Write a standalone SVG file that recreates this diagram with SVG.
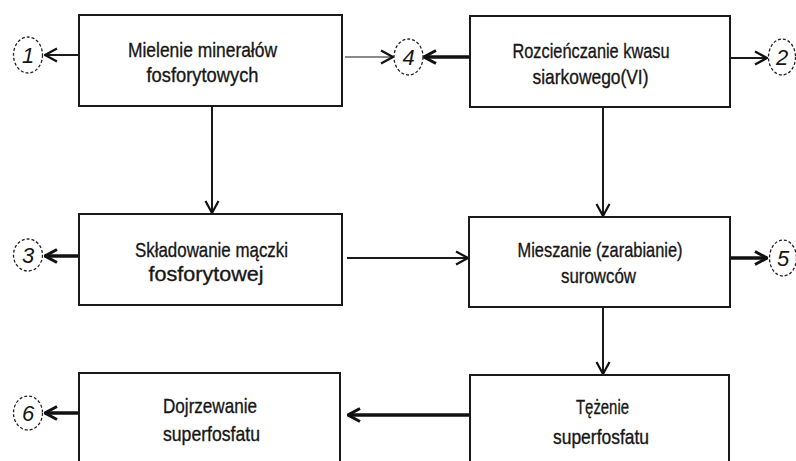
<svg xmlns="http://www.w3.org/2000/svg" width="796" height="461" viewBox="0 0 796 461">
  <style>
    .box { fill: #ffffff; stroke: #1a1a1a; stroke-width: 2; }
    .label { font-family: "Liberation Sans", Arial, sans-serif; font-size: 21px; fill: #161616; stroke: #161616; stroke-width: 0.35; text-anchor: middle; }
    .stream { fill: none; stroke: #222; stroke-width: 1.3; stroke-dasharray: 3 2; }
    .num { font-family: "Liberation Sans", Arial, sans-serif; font-size: 22px; font-style: italic; fill: #161616; text-anchor: middle; }
    .thin { fill: none; stroke: #1a1a1a; stroke-width: 2; }
    .thick { fill: none; stroke: #111; stroke-width: 3.5; }
    .faint { fill: none; stroke: #8a8a8a; stroke-width: 2; }
  </style>
  <defs>
    <marker id="head" viewBox="0 0 14 16" refX="13" refY="8" markerWidth="14" markerHeight="16" markerUnits="userSpaceOnUse" orient="auto">
      <path d="M1,1.5 L13,8 L1,14.5" fill="none" stroke="#111" stroke-width="2.2"/>
    </marker>
    <marker id="headBold" viewBox="0 0 14 16" refX="13" refY="8" markerWidth="14" markerHeight="16" markerUnits="userSpaceOnUse" orient="auto">
      <path d="M1,1.5 L13,8 L1,14.5" fill="none" stroke="#111" stroke-width="3"/>
    </marker>
  </defs>

  <rect width="796" height="461" fill="#ffffff"/>

  <!-- connectors -->
  <g id="connectors">
    <line class="thin" x1="79" y1="55" x2="45" y2="55" marker-end="url(#head)"/>
    <line class="faint" x1="345" y1="57" x2="393" y2="57" marker-end="url(#head)"/>
    <line class="thick" x1="470" y1="57" x2="424" y2="57" marker-end="url(#headBold)"/>
    <line class="thin" x1="730" y1="58" x2="767" y2="58" marker-end="url(#head)"/>
    <line class="thin" x1="212" y1="106" x2="212" y2="213" marker-end="url(#head)"/>
    <line class="thin" x1="603" y1="107" x2="603" y2="216" marker-end="url(#head)"/>
    <line class="thick" x1="79" y1="256" x2="45" y2="256" marker-end="url(#headBold)"/>
    <line class="thin" x1="347" y1="258" x2="468" y2="258" marker-end="url(#head)"/>
    <line class="thick" x1="730" y1="258" x2="767" y2="258" marker-end="url(#headBold)"/>
    <line class="thin" x1="603" y1="307" x2="603" y2="374" marker-end="url(#head)"/>
    <line class="thick" x1="470" y1="415" x2="348" y2="415" marker-end="url(#headBold)"/>
    <line class="thick" x1="79" y1="413" x2="45" y2="413" marker-end="url(#headBold)"/>
  </g>

  <!-- process steps -->
  <g id="mielenie">
    <rect class="box" x="79" y="15" width="263" height="91"/>
    <text class="label" x="202.5" y="57" textLength="149" lengthAdjust="spacingAndGlyphs">Mielenie minerałów</text>
    <text class="label" x="202.5" y="82" textLength="112" lengthAdjust="spacingAndGlyphs">fosforytowych</text>
  </g>
  <g id="rozcienczanie">
    <rect class="box" x="470" y="16" width="260" height="91"/>
    <text class="label" x="591" y="58" textLength="157" lengthAdjust="spacingAndGlyphs">Rozcieńczanie kwasu</text>
    <text class="label" x="590.5" y="84" textLength="116" lengthAdjust="spacingAndGlyphs">siarkowego(VI)</text>
  </g>
  <g id="skladowanie">
    <rect class="box" x="79" y="214" width="263" height="91"/>
    <text class="label" x="211.5" y="257" textLength="153" lengthAdjust="spacingAndGlyphs">Składowanie mączki</text>
    <text class="label" x="206" y="281" textLength="115" lengthAdjust="spacingAndGlyphs">fosforytowej</text>
  </g>
  <g id="mieszanie">
    <rect class="box" x="469" y="217" width="261" height="90"/>
    <text class="label" x="600" y="257" textLength="165" lengthAdjust="spacingAndGlyphs">Mieszanie (zarabianie)</text>
    <text class="label" x="598.5" y="283" textLength="75" lengthAdjust="spacingAndGlyphs">surowców</text>
  </g>
  <g id="dojrzewanie">
    <rect class="box" x="79" y="373" width="261" height="100"/>
    <text class="label" x="210" y="413" textLength="94" lengthAdjust="spacingAndGlyphs">Dojrzewanie</text>
    <text class="label" x="211.5" y="441" textLength="97" lengthAdjust="spacingAndGlyphs">superfosfatu</text>
  </g>
  <g id="tezenie">
    <rect class="box" x="470" y="375" width="259" height="100"/>
    <text class="label" x="602.5" y="414" textLength="53" lengthAdjust="spacingAndGlyphs">Tężenie</text>
    <text class="label" x="601" y="444" textLength="96" lengthAdjust="spacingAndGlyphs">superfosfatu</text>
  </g>

  <!-- numbered streams -->
  <g id="s1"><ellipse class="stream" cx="28" cy="55" rx="14.5" ry="18"/><text class="num" x="28" y="63">1</text></g>
  <g id="s2"><ellipse class="stream" cx="782" cy="57" rx="13.5" ry="18"/><text class="num" x="782" y="65">2</text></g>
  <g id="s3"><ellipse class="stream" cx="28" cy="255" rx="14.5" ry="16"/><text class="num" x="28" y="263">3</text></g>
  <g id="s4"><ellipse class="stream" cx="408.5" cy="57" rx="14.5" ry="18"/><text class="num" x="408.5" y="65">4</text></g>
  <g id="s5"><ellipse class="stream" cx="783" cy="258" rx="13.5" ry="18"/><text class="num" x="783" y="266">5</text></g>
  <g id="s6"><ellipse class="stream" cx="28" cy="413" rx="14.5" ry="17"/><text class="num" x="28" y="421">6</text></g>
</svg>
